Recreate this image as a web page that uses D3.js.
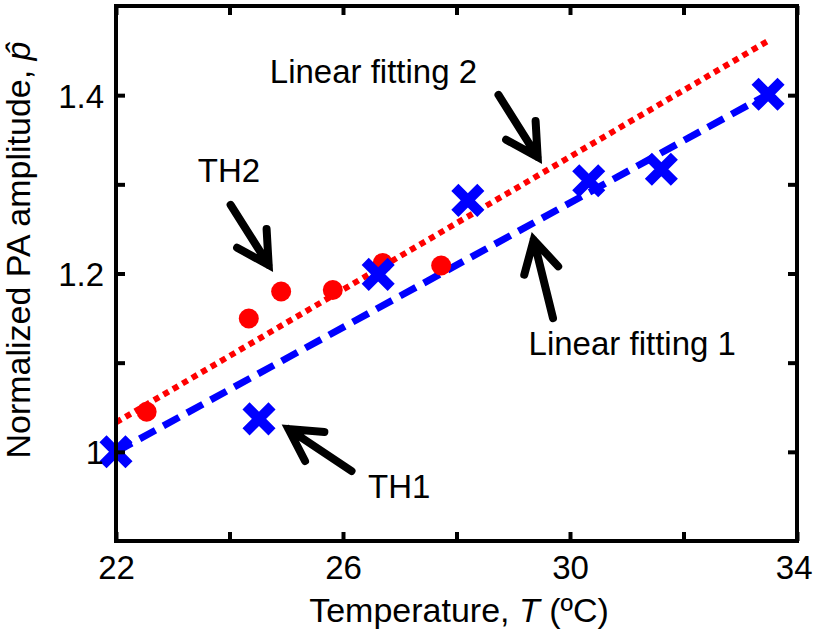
<!DOCTYPE html>
<html>
<head>
<meta charset="utf-8">
<script src="https://cdn.jsdelivr.net/npm/d3@7"></script>
<style>
  html, body { margin: 0; padding: 0; background: #fff; }
  svg { display: block; }
  text { font-family: "Liberation Sans", Arial, Helvetica, sans-serif; fill: #000; }
</style>
</head>
<body>
<svg id="chart" width="814" height="634"></svg>
<script>
// ---- data ----
const th1Temp = [22, 24.52, 26.62, 28.2, 30.33, 31.61, 33.49];
const th1Amp  = [1.0, 1.037, 1.199, 1.282, 1.304, 1.317, 1.401];

const th2Temp = [22.54, 24.34, 24.91, 25.82, 26.70, 27.73];
const th2Amp  = [1.045, 1.1495, 1.1798, 1.1815, 1.2118, 1.209];

const fit1Temp = [22, 33.49];
const fit1Amp  = [1.0, 1.401];
const fit2Temp = [22, 33.52];
const fit2Amp  = [1.033, 1.462];

const xTicks = [22, 24, 26, 28, 30, 32, 34];
const xTickLabels = ["22", "", "26", "", "30", "", "34"];
const yTicks = [1.0, 1.1, 1.2, 1.3, 1.4];
const yTickLabels = ["1", "", "1.2", "", "1.4"];

// annotations (data coordinates): label, label anchor, arrow tail, arrow tip
const annLabels = ["TH2", "Linear fitting 2", "Linear fitting 1", "TH1"];
const annLabelT = [23.44, 24.71, 29.27, 26.44];
const annLabelP = [1.3026, 1.4136, 1.1086, 0.9482];
const annTailT  = [24.02, 28.74, 29.70, 26.15];
const annTailP  = [1.277, 1.4002, 1.150, 0.9785];
const annTipT   = [24.69, 29.43, 29.36, 25.04];
const annTipP   = [1.2095, 1.3306, 1.2376, 1.0256];

// ---- layout ----
const svg = d3.select("#chart");
const L = 116, R = 797, T = 6, B = 541;
const x = d3.scaleLinear().domain([22, 34]).range([L, R]);
const y = d3.scaleLinear().domain([0.9, 1.5]).range([B, T]);
const FS = 33, FT = 34;

// fit lines
const line = d3.line().x(d => x(d[0])).y(d => y(d[1]));
svg.append("path")
  .attr("d", line(d3.zip(fit2Temp, fit2Amp)))
  .attr("fill", "none").attr("stroke", "#ff0000")
  .attr("stroke-width", 6).attr("stroke-dasharray", "6,5");
svg.append("path")
  .attr("d", line(d3.zip(fit1Temp, fit1Amp)))
  .attr("fill", "none").attr("stroke", "#0000ff")
  .attr("stroke-width", 7).attr("stroke-dasharray", "18,9");

// TH2 circles
svg.append("g").selectAll("circle")
  .data(d3.zip(th2Temp, th2Amp)).join("circle")
  .attr("cx", d => x(d[0])).attr("cy", d => y(d[1]))
  .attr("r", 10).attr("fill", "#ff0000");

// TH1 crosses
const s = 13;
svg.append("g").selectAll("path")
  .data(d3.zip(th1Temp, th1Amp)).join("path")
  .attr("d", d => {
    const cx = x(d[0]), cy = y(d[1]);
    return `M${cx - s},${cy - s}L${cx + s},${cy + s}M${cx - s},${cy + s}L${cx + s},${cy - s}`;
  })
  .attr("stroke", "#0000ff").attr("stroke-width", 10).attr("fill", "none");

// axes box
svg.append("rect").attr("x", L).attr("y", T).attr("width", R - L).attr("height", B - T)
  .attr("fill", "none").attr("stroke", "#000").attr("stroke-width", 4);

function styleAxis(g) {
  g.select(".domain").remove();
  g.selectAll(".tick line").attr("stroke", "#000").attr("stroke-width", 4);
  g.selectAll(".tick text").attr("font-size", FS).attr("font-family", '"Liberation Sans", Arial, sans-serif').attr("fill", "#000");
}
const tk = 9;
svg.append("g").attr("transform", `translate(0,${B})`)
  .call(d3.axisBottom(x).tickValues(xTicks).tickSizeInner(-tk).tickSizeOuter(0)
    .tickPadding(0).tickFormat((d, i) => xTickLabels[i]))
  .call(styleAxis)
  .call(g => g.selectAll(".tick text").attr("y", 38).attr("dy", 0))
  .call(g => g.selectAll(".tick text").filter(d => d === 34)
    .attr("text-anchor", "end").attr("x", 15));
svg.append("g").attr("transform", `translate(0,${T})`)
  .call(d3.axisTop(x).tickValues(xTicks).tickSizeInner(-tk).tickSizeOuter(0).tickFormat(""))
  .call(styleAxis);
svg.append("g").attr("transform", `translate(${L},0)`)
  .call(d3.axisLeft(y).tickValues(yTicks).tickSizeInner(-tk).tickSizeOuter(0)
    .tickPadding(0).tickFormat((d, i) => yTickLabels[i]))
  .call(styleAxis)
  .call(g => g.selectAll(".tick text").attr("x", -12).attr("dy", "0.36em"));
svg.append("g").attr("transform", `translate(${R},0)`)
  .call(d3.axisRight(y).tickValues(yTicks).tickSizeInner(-tk).tickSizeOuter(0).tickFormat(""))
  .call(styleAxis);

// axis titles
const xt = svg.append("text").attr("x", 459).attr("y", 622)
  .attr("text-anchor", "middle").attr("font-size", FT);
xt.append("tspan").text("Temperature, ");
xt.append("tspan").attr("font-style", "italic").text("T");
xt.append("tspan").text(" (ºC)");

const yt = svg.append("text").attr("transform", "translate(30,250) rotate(-90)")
  .attr("text-anchor", "middle").attr("font-size", FT);
yt.append("tspan").text("Normalized PA amplitude, ");
yt.append("tspan").attr("font-style", "italic").text("p\u0302");

// annotations
const ann = svg.append("g");
annLabels.forEach((lab, i) => {
  ann.append("text").attr("x", x(annLabelT[i])).attr("y", y(annLabelP[i]))
    .attr("font-size", FS).text(lab);
  const x0 = x(annTailT[i]), y0 = y(annTailP[i]);
  const x1 = x(annTipT[i]), y1 = y(annTipP[i]);
  const a = Math.atan2(y0 - y1, x0 - x1);
  const hl = 36, ha = 29 * Math.PI / 180;
  const p1 = [x1 + hl * Math.cos(a + ha), y1 + hl * Math.sin(a + ha)];
  const p2 = [x1 + hl * Math.cos(a - ha), y1 + hl * Math.sin(a - ha)];
  ann.append("path")
    .attr("d", `M${x0},${y0}L${x1},${y1}M${p1[0]},${p1[1]}L${x1},${y1}L${p2[0]},${p2[1]}`)
    .attr("fill", "none").attr("stroke", "#000").attr("stroke-width", 8)
    .attr("stroke-linecap", "round").attr("stroke-linejoin", "miter");
});
</script>
</body>
</html>
